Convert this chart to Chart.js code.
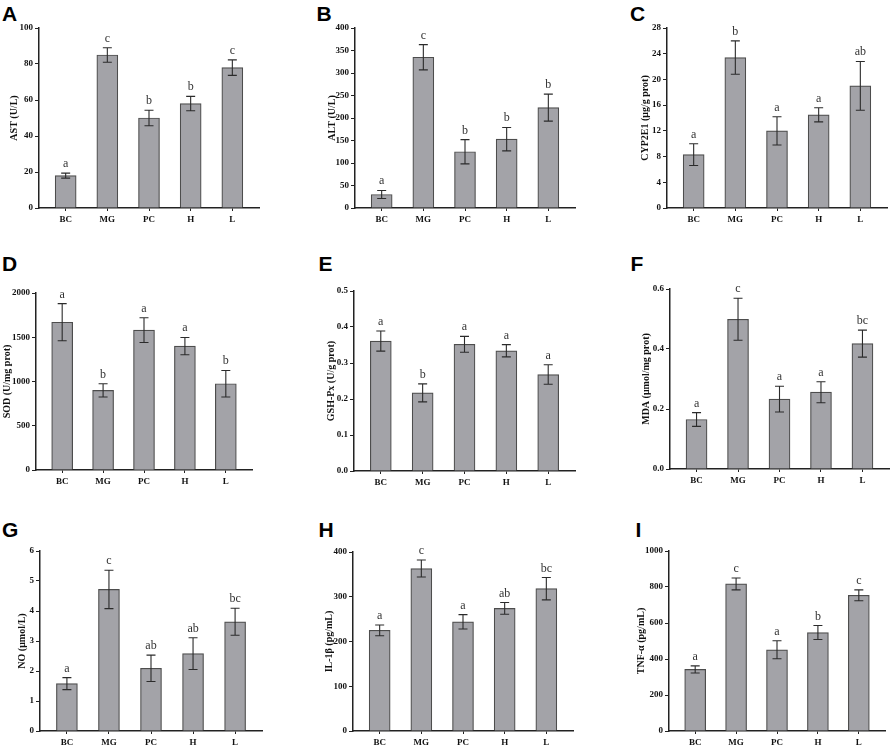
<!DOCTYPE html>
<html>
<head>
<meta charset="utf-8">
<script src="https://cdn.jsdelivr.net/npm/chart.js@4"></script>
<style>
  html, body { margin: 0; padding: 0; background: #fff; }
  body { width: 892px; height: 745px; position: relative; overflow: hidden; }
  canvas { position: absolute; }
  .lbl { position: absolute; font-family: "Liberation Sans", Arial, sans-serif; font-weight: bold; font-size: 21px; line-height: 21px; color: #000; }
</style>
</head>
<body>
<script>
// ---- data ----
const categories = ["BC", "MG", "PC", "H", "L"];

const astMean = [18, 85, 50, 58, 78];
const astErr  = [1.4, 4, 4.3, 4, 4.3];
const astSig  = ["a", "c", "b", "b", "c"];
const astTicks = ["0", "20", "40", "60", "80", "100"];

const altMean = [30, 335, 125, 153, 223];
const altErr  = [9, 28, 27, 26, 30];
const altSig  = ["a", "c", "b", "b", "b"];
const altTicks = ["0", "50", "100", "150", "200", "250", "300", "350", "400"];

const cypMean = [8.3, 23.4, 12, 14.5, 19];
const cypErr  = [1.7, 2.6, 2.2, 1.1, 3.8];
const cypSig  = ["a", "b", "a", "a", "ab"];
const cypTicks = ["0", "4", "8", "12", "16", "20", "24", "28"];

const sodMean = [1670, 900, 1580, 1400, 975];
const sodErr  = [210, 75, 140, 98, 150];
const sodSig  = ["a", "b", "a", "a", "b"];
const sodTicks = ["0", "500", "1000", "1500", "2000"];

const gshMean = [0.361, 0.217, 0.352, 0.334, 0.268];
const gshErr  = [0.028, 0.025, 0.022, 0.017, 0.027];
const gshSig  = ["a", "b", "a", "a", "a"];
const gshTicks = ["0.0", "0.1", "0.2", "0.3", "0.4", "0.5"];

const mdaMean = [0.165, 0.499, 0.233, 0.256, 0.418];
const mdaErr  = [0.023, 0.07, 0.043, 0.035, 0.045];
const mdaSig  = ["a", "c", "a", "a", "bc"];
const mdaTicks = ["0.0", "0.2", "0.4", "0.6"];

const noMean = [1.58, 4.72, 2.09, 2.58, 3.64];
const noErr  = [0.2, 0.64, 0.44, 0.53, 0.45];
const noSig  = ["a", "c", "ab", "ab", "bc"];
const noTicks = ["0", "1", "2", "3", "4", "5", "6"];

const ilMean = [225, 363, 244, 274, 318];
const ilErr  = [12, 19, 16, 13, 25];
const ilSig  = ["a", "c", "a", "ab", "bc"];
const ilTicks = ["0", "100", "200", "300", "400"];

const tnfMean = [342, 817, 451, 547, 754];
const tnfErr  = [20, 33, 50, 39, 30];
const tnfSig  = ["a", "c", "a", "b", "c"];
const tnfTicks = ["0", "200", "400", "600", "800", "1000"];

// ---- layout (pixel geometry of each panel) ----
const panels = [
  { letter: "A", title: "AST (U/L)",          mean: astMean, err: astErr, sig: astSig, ticks: astTicks, axisX: 39,  topY: 28,  zeroY: 208, endX: 259, titleX: 14,  lx: 2,     ly: 3 },
  { letter: "B", title: "ALT (U/L)",          mean: altMean, err: altErr, sig: altSig, ticks: altTicks, axisX: 355, topY: 28,  zeroY: 208, endX: 575, titleX: 332, lx: 316.5, ly: 3 },
  { letter: "C", title: "CYP2E1 (μg/g prot)", mean: cypMean, err: cypErr, sig: cypSig, ticks: cypTicks, axisX: 667, topY: 28,  zeroY: 208, endX: 887, titleX: 645, lx: 630,   ly: 3 },
  { letter: "D", title: "SOD (U/mg prot)",    mean: sodMean, err: sodErr, sig: sodSig, ticks: sodTicks, axisX: 36,  topY: 293, zeroY: 470, endX: 252, titleX: 7.5, lx: 2,     ly: 253 },
  { letter: "E", title: "GSH-Px (U/g prot)",  mean: gshMean, err: gshErr, sig: gshSig, ticks: gshTicks, axisX: 354, topY: 291, zeroY: 471, endX: 575, titleX: 331, lx: 318.5, ly: 253 },
  { letter: "F", title: "MDA (μmol/mg prot)", mean: mdaMean, err: mdaErr, sig: mdaSig, ticks: mdaTicks, axisX: 670, topY: 289, zeroY: 469, endX: 889, titleX: 646, lx: 630.5, ly: 253 },
  { letter: "G", title: "NO (μmol/L)",        mean: noMean,  err: noErr,  sig: noSig,  ticks: noTicks,  axisX: 40,  topY: 551, zeroY: 731, endX: 262, titleX: 22.5,lx: 2,     ly: 519 },
  { letter: "H", title: "IL-1β (pg/mL)",      mean: ilMean,  err: ilErr,  sig: ilSig,  ticks: ilTicks,  axisX: 353, topY: 552, zeroY: 731, endX: 573, titleX: 329, lx: 318.5, ly: 519 },
  { letter: "I", title: "TNF-α (pg/mL)",      mean: tnfMean, err: tnfErr, sig: tnfSig, ticks: tnfTicks, axisX: 669, topY: 551, zeroY: 731, endX: 885, titleX: 641, lx: 635.5, ly: 519 }
];

const Y_AXIS_W = 45, TOP_PAD = 16, X_AXIS_H = 22, RIGHT_PAD = 4;
const serif = "'Liberation Serif', 'Times New Roman', serif";

const errorBarPlugin = {
  id: "errbars",
  afterDatasetsDraw(chart) {
    const p = chart.options.plugins.errbars;
    const ctx = chart.ctx;
    const meta = chart.getDatasetMeta(0);
    const ys = chart.scales.y;
    ctx.save();
    ctx.strokeStyle = "#2b2b2b";
    ctx.lineWidth = 1.1;
    meta.data.forEach((bar, i) => {
      const m = p.mean[i], e = p.err[i];
      const yTop = ys.getPixelForValue(m + e);
      const yBot = ys.getPixelForValue(m - e);
      const x = bar.x;
      ctx.beginPath();
      ctx.moveTo(x, yTop); ctx.lineTo(x, yBot);
      ctx.moveTo(x - 4.5, yTop); ctx.lineTo(x + 4.5, yTop);
      ctx.moveTo(x - 4.5, yBot); ctx.lineTo(x + 4.5, yBot);
      ctx.stroke();
      ctx.fillStyle = "#333";
      ctx.font = "12px " + serif;
      ctx.textAlign = "center";
      ctx.textBaseline = "alphabetic";
      ctx.fillText(p.sig[i], x, yTop - 6);
    });
    ctx.restore();
  }
};

panels.forEach(pn => {
  const left = pn.axisX - Y_AXIS_W;
  const top = pn.topY - TOP_PAD;
  const width = pn.endX + RIGHT_PAD - left;
  const height = pn.zeroY + X_AXIS_H - top;

  const lbl = document.createElement("div");
  lbl.className = "lbl";
  lbl.style.left = pn.lx + "px";
  lbl.style.top = pn.ly + "px";
  lbl.textContent = pn.letter;
  document.body.appendChild(lbl);

  const cv = document.createElement("canvas");
  cv.width = width; cv.height = height;
  cv.style.left = left + "px"; cv.style.top = top + "px";
  cv.style.width = width + "px"; cv.style.height = height + "px";
  document.body.appendChild(cv);

  const yMax = parseFloat(pn.ticks[pn.ticks.length - 1]);
  const tickVals = pn.ticks.map(t => parseFloat(t));
  const titlePad = (pn.titleX - left) - 6;

  new Chart(cv, {
    type: "bar",
    data: {
      datasets: [{
        data: pn.mean.map((v, i) => ({ x: i, y: v })),
        backgroundColor: "#a3a3a8",
        borderColor: "#4d4d4d",
        borderWidth: 1.2,
        barThickness: 21
      }]
    },
    options: {
      responsive: false,
      animation: false,
      devicePixelRatio: 1,
      layout: { padding: { left: 0, right: RIGHT_PAD, top: TOP_PAD, bottom: 0 } },
      plugins: {
        legend: { display: false },
        tooltip: { enabled: false },
        errbars: { mean: pn.mean, err: pn.err, sig: pn.sig }
      },
      scales: {
        x: {
          type: "linear",
          offset: false,
          min: -0.64, max: 4.64,
          afterBuildTicks(axis) { axis.ticks = categories.map((c, i) => ({ value: i })); },
          afterFit(axis) { axis.height = X_AXIS_H; axis.paddingLeft = 0; axis.paddingRight = 0; },
          ticks: {
            callback: (v) => categories[v],
            font: { family: serif, weight: "bold", size: 9 },
            color: "#111",
            padding: 3,
            maxRotation: 0, autoSkip: false
          },
          grid: { display: true, offset: false, drawOnChartArea: false, drawTicks: true, tickLength: 3, color: "#222", lineWidth: 1 },
          border: { display: true, color: "#222", width: 1.5 }
        },
        y: {
          type: "linear",
          min: 0, max: yMax,
          afterBuildTicks(axis) { axis.ticks = tickVals.map(v => ({ value: v })); },
          afterFit(axis) { axis.width = Y_AXIS_W; axis.paddingTop = 0; axis.paddingBottom = 0; },
          ticks: {
            callback: (v, i) => pn.ticks[i],
            font: { family: serif, weight: "bold", size: 9 },
            color: "#111",
            padding: 2,
            autoSkip: false
          },
          grid: { display: true, drawOnChartArea: false, drawTicks: true, tickLength: 4, color: "#222", lineWidth: 1 },
          border: { display: true, color: "#222", width: 1.5 },
          title: {
            display: true,
            text: pn.title,
            font: { family: serif, weight: "bold", size: 10 },
            color: "#111",
            padding: { top: titlePad, bottom: 0 }
          }
        }
      }
    },
    plugins: [errorBarPlugin]
  });
});
</script>
</body>
</html>
